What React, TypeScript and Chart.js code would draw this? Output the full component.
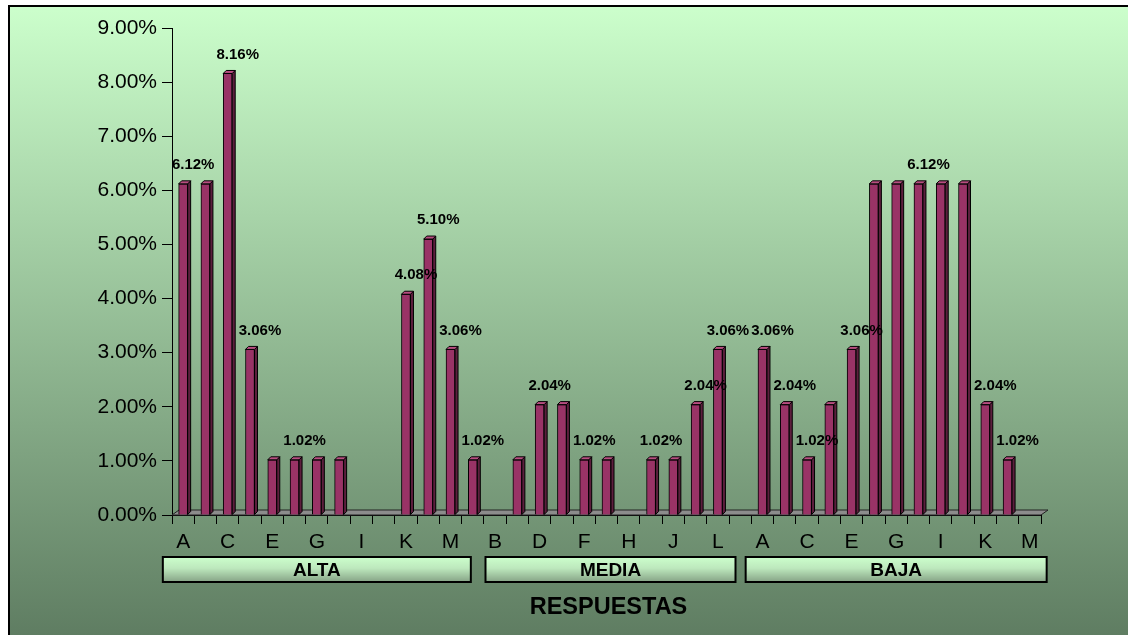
import React, { useEffect, useRef } from "react";
import { Chart, registerables } from "chart.js";

Chart.register(...registerables);

const letters = ["A", "B", "C", "D", "E", "F", "G", "H", "I", "J", "K", "L", "M"];
const groupNames = ["ALTA", "MEDIA", "BAJA"];
const altaValues = [6.12, 6.12, 8.16, 3.06, 1.02, 1.02, 1.02, 1.02, 0, 0, 4.08, 5.1, 3.06];
const mediaValues = [1.02, 0, 1.02, 2.04, 2.04, 1.02, 1.02, 0, 1.02, 1.02, 2.04, 3.06, 0];
const bajaValues = [3.06, 2.04, 1.02, 2.04, 3.06, 6.12, 6.12, 6.12, 6.12, 6.12, 2.04, 1.02, 0];
// which bars carry a visible value label
const altaLabeled = [1, 0, 1, 1, 0, 1, 0, 0, 0, 0, 1, 1, 1];
const mediaLabeled = [1, 0, 0, 1, 0, 1, 0, 0, 1, 0, 1, 1, 0];
const bajaLabeled = [1, 1, 1, 0, 1, 0, 0, 1, 0, 0, 1, 1, 0];
const yTickValues = [0, 1, 2, 3, 4, 5, 6, 7, 8, 9];
const axisTitle = "RESPUESTAS";

const categories = groupNames.flatMap(() => letters);
const values = [...altaValues, ...mediaValues, ...bajaValues];
const labeled = [...altaLabeled, ...mediaLabeled, ...bajaLabeled];

const W = 1128;
const H = 635;
const FONT = "'Liberation Sans', Arial, sans-serif";
const groupBoxWidths = [308, 250, 301];
const groupBoxShift = [0, 4, 0];

const bgPlugin = {
  id: "bgPlugin",
  beforeDraw(chart: any) {
    const ctx = chart.ctx;
    ctx.save();
    ctx.fillStyle = "#ffffff";
    ctx.fillRect(0, 0, W, H);
    const g = ctx.createLinearGradient(0, 5, 0, H);
    g.addColorStop(0, "#ccffcc");
    g.addColorStop(1, "#5f7d62");
    ctx.fillStyle = g;
    ctx.fillRect(8, 5, W - 8, H - 5);
    ctx.strokeStyle = "#000";
    ctx.lineWidth = 2;
    ctx.beginPath();
    ctx.moveTo(9, H);
    ctx.lineTo(9, 6);
    ctx.lineTo(W, 6);
    ctx.stroke();
    ctx.restore();
  },
  beforeDatasetsDraw(chart: any) {
    const ctx = chart.ctx;
    const { left, right, bottom } = chart.chartArea;
    ctx.save();
    ctx.beginPath();
    ctx.moveTo(left, bottom);
    ctx.lineTo(right, bottom);
    ctx.lineTo(right + 7, bottom - 5);
    ctx.lineTo(left + 7, bottom - 5);
    ctx.closePath();
    ctx.fillStyle = "#8c8c8c";
    ctx.fill();
    ctx.strokeStyle = "#222";
    ctx.lineWidth = 1;
    ctx.stroke();
    ctx.restore();
  },
  afterDatasetsDraw(chart: any) {
    const ctx = chart.ctx;
    const meta = chart.getDatasetMeta(0);
    const d = 3;
    ctx.save();
    ctx.lineWidth = 1;
    ctx.strokeStyle = "#000";
    meta.data.forEach((bar: any, i: number) => {
      if (values[i] <= 0) return;
      const { x, y, base, width } = bar.getProps(["x", "y", "base", "width"], true);
      const l = x - width / 2;
      const r = x + width / 2;
      ctx.beginPath();
      ctx.moveTo(r, y);
      ctx.lineTo(r + d, y - d);
      ctx.lineTo(r + d, base - d);
      ctx.lineTo(r, base);
      ctx.closePath();
      ctx.fillStyle = "#5c1f3d";
      ctx.fill();
      ctx.stroke();
      ctx.beginPath();
      ctx.moveTo(l, y);
      ctx.lineTo(l + d, y - d);
      ctx.lineTo(r + d, y - d);
      ctx.lineTo(r, y);
      ctx.closePath();
      ctx.fillStyle = "#b84d80";
      ctx.fill();
      ctx.stroke();
    });
    ctx.fillStyle = "#000";
    ctx.font = `bold 15px ${FONT}`;
    ctx.textAlign = "center";
    ctx.textBaseline = "middle";
    meta.data.forEach((bar: any, i: number) => {
      if (!labeled[i]) return;
      const { x, y } = bar.getProps(["x", "y"], true);
      ctx.fillText(values[i].toFixed(2) + "%", x + 10, y - 19);
    });
    ctx.restore();
  },
  afterDraw(chart: any) {
    const ctx = chart.ctx;
    const xs = chart.scales.x;
    const area = chart.chartArea;
    ctx.save();
    groupNames.forEach((name, gi) => {
      const a = xs.getPixelForValue(gi * letters.length);
      const b = xs.getPixelForValue(gi * letters.length + letters.length - 1);
      const c = (a + b) / 2 + groupBoxShift[gi];
      const w = groupBoxWidths[gi];
      const top = 557;
      const h = 25;
      const g = ctx.createLinearGradient(0, top, 0, top + h);
      g.addColorStop(0, "#ccffcc");
      g.addColorStop(0.45, "#bde8bd");
      g.addColorStop(1, "#86a386");
      ctx.fillStyle = g;
      ctx.fillRect(c - w / 2, top, w, h);
      ctx.strokeStyle = "#000";
      ctx.lineWidth = 2;
      ctx.strokeRect(c - w / 2, top, w, h);
      ctx.fillStyle = "#000";
      ctx.font = `bold 19px ${FONT}`;
      ctx.textAlign = "center";
      ctx.textBaseline = "middle";
      ctx.fillText(name, c, top + h / 2 + 1);
    });
    ctx.font = `bold 23.5px ${FONT}`;
    ctx.fillStyle = "#000";
    ctx.textAlign = "center";
    ctx.textBaseline = "middle";
    ctx.fillText(axisTitle, (area.left + area.right) / 2 + 2, 608);
    ctx.restore();
  },
};

export default function App() {
  const ref = useRef<HTMLCanvasElement | null>(null);
  useEffect(() => {
    document.body.style.margin = "0";
    const canvas = ref.current;
    if (!canvas) return;
    const chart = new Chart(canvas, {
      type: "bar",
      data: {
        labels: categories,
        datasets: [
          {
            data: values,
            backgroundColor: "#993366",
            borderColor: "#000",
            borderWidth: 1,
            barThickness: 9,
          },
        ],
      },
      options: {
        responsive: false,
        animation: false,
        devicePixelRatio: 1,
        layout: { padding: { left: 0, top: 28, right: W - 1041, bottom: 0 } },
        plugins: { legend: { display: false }, tooltip: { enabled: false } },
        scales: {
          x: {
            afterFit: (s: any) => {
              s.height = H - 515;
            },
            grid: {
              drawOnChartArea: false,
              color: "#000",
              tickLength: 9,
              offset: true,
            },
            border: { color: "#000", width: 1 },
            ticks: {
              autoSkip: false,
              maxRotation: 0,
              color: "#000",
              padding: 6,
              font: { size: 21, family: FONT },
              callback: (_v: any, i: number) => (i % 2 === 0 ? categories[i] : ""),
            },
          },
          y: {
            min: 0,
            max: 9,
            afterFit: (s: any) => {
              s.width = 172;
            },
            afterBuildTicks: (s: any) => {
              s.ticks = yTickValues.map((v) => ({ value: v }));
            },
            grid: { drawOnChartArea: false, color: "#000", tickLength: 10 },
            border: { color: "#000", width: 1 },
            ticks: {
              color: "#000",
              padding: 5,
              font: { size: 21, family: FONT },
              callback: (v: any) => Number(v).toFixed(2) + "%",
            },
          },
        },
      },
      plugins: [bgPlugin],
    } as any);
    return () => chart.destroy();
  }, []);
  return (
    <canvas
      ref={ref}
      width={W}
      height={H}
      style={{ display: "block", width: W, height: H }}
    />
  );
}
